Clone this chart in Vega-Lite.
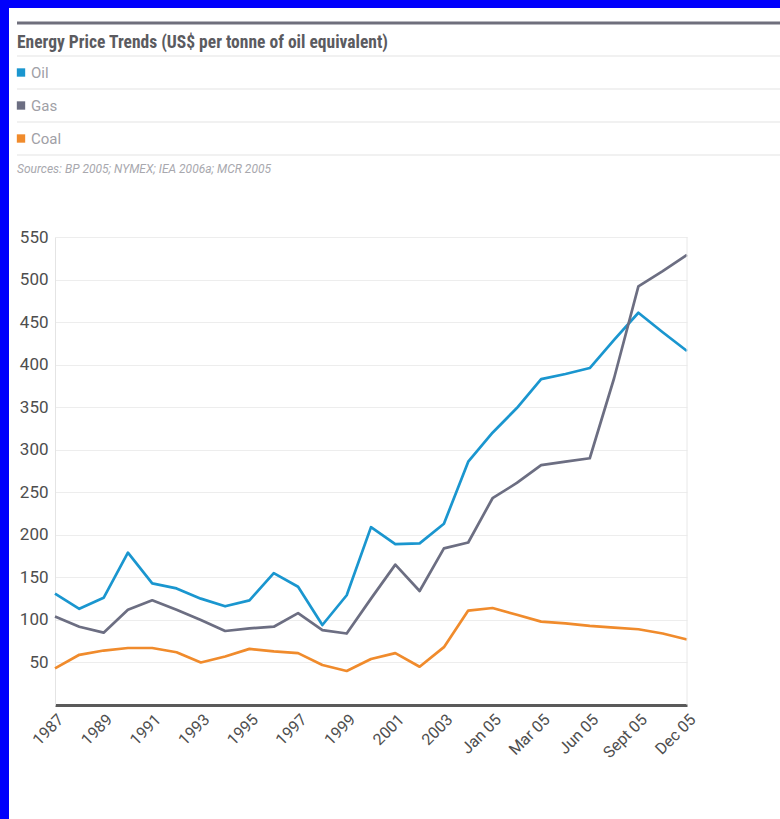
{
  "$schema": "https://vega.github.io/schema/vega-lite/v6.json",
  "width": 771,
  "height": 811,
  "autosize": {"type": "none"},
  "padding": {"left": 9, "top": 8, "right": 0, "bottom": 0},
  "background": "#0000fc",
  "config": {"view": {"fill": "white", "stroke": null}, "font": "Roboto"},
  "datasets": {
    "header": [
      {"row": "title", "text": "Energy Price Trends (US$ per tonne of oil equivalent)", "kind": "title"},
      {"row": "Oil", "text": "Oil", "kind": "legend"},
      {"row": "Gas", "text": "Gas", "kind": "legend"},
      {"row": "Coal", "text": "Coal", "kind": "legend"},
      {"row": "sources", "text": "Sources: BP 2005; NYMEX; IEA 2006a; MCR 2005", "kind": "sources"}
    ],
    "prices": [
      {"period": "1987", "series": "Oil", "value": 131}, {"period": "1987", "series": "Gas", "value": 104}, {"period": "1987", "series": "Coal", "value": 43},
      {"period": "1988", "series": "Oil", "value": 113}, {"period": "1988", "series": "Gas", "value": 92}, {"period": "1988", "series": "Coal", "value": 59},
      {"period": "1989", "series": "Oil", "value": 126}, {"period": "1989", "series": "Gas", "value": 85}, {"period": "1989", "series": "Coal", "value": 64},
      {"period": "1990", "series": "Oil", "value": 179}, {"period": "1990", "series": "Gas", "value": 112}, {"period": "1990", "series": "Coal", "value": 67},
      {"period": "1991", "series": "Oil", "value": 143}, {"period": "1991", "series": "Gas", "value": 123}, {"period": "1991", "series": "Coal", "value": 67},
      {"period": "1992", "series": "Oil", "value": 137}, {"period": "1992", "series": "Gas", "value": 112}, {"period": "1992", "series": "Coal", "value": 62},
      {"period": "1993", "series": "Oil", "value": 125}, {"period": "1993", "series": "Gas", "value": 100}, {"period": "1993", "series": "Coal", "value": 50},
      {"period": "1994", "series": "Oil", "value": 116}, {"period": "1994", "series": "Gas", "value": 87}, {"period": "1994", "series": "Coal", "value": 57},
      {"period": "1995", "series": "Oil", "value": 123}, {"period": "1995", "series": "Gas", "value": 90}, {"period": "1995", "series": "Coal", "value": 66},
      {"period": "1996", "series": "Oil", "value": 155}, {"period": "1996", "series": "Gas", "value": 92}, {"period": "1996", "series": "Coal", "value": 63},
      {"period": "1997", "series": "Oil", "value": 139}, {"period": "1997", "series": "Gas", "value": 108}, {"period": "1997", "series": "Coal", "value": 61},
      {"period": "1998", "series": "Oil", "value": 94}, {"period": "1998", "series": "Gas", "value": 88}, {"period": "1998", "series": "Coal", "value": 47},
      {"period": "1999", "series": "Oil", "value": 129}, {"period": "1999", "series": "Gas", "value": 84}, {"period": "1999", "series": "Coal", "value": 40},
      {"period": "2000", "series": "Oil", "value": 209}, {"period": "2000", "series": "Gas", "value": 125}, {"period": "2000", "series": "Coal", "value": 54},
      {"period": "2001", "series": "Oil", "value": 189}, {"period": "2001", "series": "Gas", "value": 165}, {"period": "2001", "series": "Coal", "value": 61},
      {"period": "2002", "series": "Oil", "value": 190}, {"period": "2002", "series": "Gas", "value": 134}, {"period": "2002", "series": "Coal", "value": 45},
      {"period": "2003", "series": "Oil", "value": 213}, {"period": "2003", "series": "Gas", "value": 184}, {"period": "2003", "series": "Coal", "value": 68},
      {"period": "2004", "series": "Oil", "value": 286}, {"period": "2004", "series": "Gas", "value": 191}, {"period": "2004", "series": "Coal", "value": 111},
      {"period": "Jan 05", "series": "Oil", "value": 320}, {"period": "Jan 05", "series": "Gas", "value": 243}, {"period": "Jan 05", "series": "Coal", "value": 114},
      {"period": "Feb 05", "series": "Oil", "value": 349}, {"period": "Feb 05", "series": "Gas", "value": 261}, {"period": "Feb 05", "series": "Coal", "value": 106},
      {"period": "Mar 05", "series": "Oil", "value": 383}, {"period": "Mar 05", "series": "Gas", "value": 282}, {"period": "Mar 05", "series": "Coal", "value": 98},
      {"period": "Apr 05", "series": "Oil", "value": 389}, {"period": "Apr 05", "series": "Gas", "value": 286}, {"period": "Apr 05", "series": "Coal", "value": 96},
      {"period": "Jun 05", "series": "Oil", "value": 396}, {"period": "Jun 05", "series": "Gas", "value": 290}, {"period": "Jun 05", "series": "Coal", "value": 93},
      {"period": "Jul 05", "series": "Oil", "value": 429}, {"period": "Jul 05", "series": "Gas", "value": 384}, {"period": "Jul 05", "series": "Coal", "value": 91},
      {"period": "Sept 05", "series": "Oil", "value": 461}, {"period": "Sept 05", "series": "Gas", "value": 492}, {"period": "Sept 05", "series": "Coal", "value": 89},
      {"period": "Oct 05", "series": "Oil", "value": 438}, {"period": "Oct 05", "series": "Gas", "value": 510}, {"period": "Oct 05", "series": "Coal", "value": 84},
      {"period": "Dec 05", "series": "Oil", "value": 416}, {"period": "Dec 05", "series": "Gas", "value": 529}, {"period": "Dec 05", "series": "Coal", "value": 77}
    ]
  },
  "layer": [
    {
      "data": {"name": "prices"},
      "layer": [
        {
          "mark": {"type": "line", "strokeWidth": 2.7, "strokeJoin": "round"},
          "encoding": {
            "x": {
              "field": "period", "type": "ordinal",
              "scale": {"type": "point", "domain": ["1987","1988","1989","1990","1991","1992","1993","1994","1995","1996","1997","1998","1999","2000","2001","2002","2003","2004","Jan 05","Feb 05","Mar 05","Apr 05","Jun 05","Jul 05","Sept 05","Oct 05","Dec 05"], "range": [46, 678], "padding": 0},
              "axis": {
                "orient": "bottom", "offset": -114, "title": null,
                "values": ["1987","1989","1991","1993","1995","1997","1999","2001","2003","Jan 05","Mar 05","Jun 05","Sept 05","Dec 05"],
                "labelAngle": -45, "labelAlign": "right", "labelBaseline": "top", "labelFontSize": 16, "labelColor": "#4e4e4e", "labelPadding": 6,
                "ticks": false, "grid": false, "domainColor": "#5a5a5a", "domainWidth": 3
              }
            },
            "y": {
              "field": "value", "type": "quantitative",
              "scale": {"domain": [0, 550], "range": [697, 229]},
              "axis": {
                "orient": "left", "offset": -46, "title": null,
                "values": [50, 100, 150, 200, 250, 300, 350, 400, 450, 500, 550],
                "labelFontSize": 17, "labelColor": "#4e4e4e", "labelPadding": 7,
                "ticks": false, "grid": true, "gridColor": "#ededed", "gridWidth": 1.2,
                "domainColor": "#e4e4e4", "domainWidth": 1
              }
            },
            "color": {"field": "series", "type": "nominal", "scale": {"domain": ["Oil", "Gas", "Coal"], "range": ["#1a96cf", "#6c6e82", "#f08b2c"]}, "legend": null}
          }
        },
        {
          "data": {"values": [{"period": "Dec 05", "lo": 0, "hi": 550}]},
          "mark": {"type": "rule", "color": "#e8e8e8", "strokeWidth": 1},
          "encoding": {
            "x": {"field": "period", "type": "ordinal", "scale": {"type": "point", "domain": ["1987","1988","1989","1990","1991","1992","1993","1994","1995","1996","1997","1998","1999","2000","2001","2002","2003","2004","Jan 05","Feb 05","Mar 05","Apr 05","Jun 05","Jul 05","Sept 05","Oct 05","Dec 05"], "range": [46, 678], "padding": 0}},
            "y": {"field": "lo", "type": "quantitative", "scale": {"domain": [0, 550], "range": [697, 229]}},
            "y2": {"field": "hi"}
          }
        }
      ]
    },
    {
      "data": {"name": "header"},
      "layer": [
        {
          "transform": [{"filter": "datum.kind === 'title'"}],
          "mark": {"type": "rule", "color": "#6f6f7c", "strokeWidth": 3},
          "encoding": {
            "y": {"field": "row", "type": "nominal", "bandPosition": 0, "scale": {"type": "band", "domain": ["title", "Oil", "Gas", "Coal", "sources"], "range": [15, 180], "paddingInner": 0, "paddingOuter": 0}, "axis": null},
            "x": {"datum": 0, "type": "quantitative", "scale": {"domain": [0, 1], "range": [8, 771]}, "axis": null},
            "x2": {"datum": 1}
          }
        },
        {
          "transform": [{"filter": "datum.kind !== 'title'"}],
          "mark": {"type": "rule", "color": "#ececec", "strokeWidth": 1.5},
          "encoding": {
            "y": {"field": "row", "type": "nominal", "bandPosition": 0, "scale": {"type": "band", "domain": ["title", "Oil", "Gas", "Coal", "sources"], "range": [15, 180], "paddingInner": 0, "paddingOuter": 0}, "axis": null},
            "x": {"datum": 0, "type": "quantitative", "scale": {"domain": [0, 1], "range": [8, 771]}, "axis": null},
            "x2": {"datum": 1}
          }
        },
        {
          "transform": [{"filter": "datum.kind === 'title'"}],
          "mark": {"type": "text", "align": "left", "baseline": "middle", "fontSize": 17.5, "fontWeight": "bold", "color": "#5b5b60", "dy": 3, "font": "Liberation Sans Narrow, Roboto Condensed, Roboto"},
          "encoding": {
            "y": {"field": "row", "type": "nominal", "bandPosition": 0.5, "scale": {"type": "band", "domain": ["title", "Oil", "Gas", "Coal", "sources"], "range": [15, 180], "paddingInner": 0, "paddingOuter": 0}, "axis": null},
            "x": {"datum": 0, "type": "quantitative", "scale": {"domain": [0, 1], "range": [8, 771]}, "axis": null},
            "text": {"field": "text"}
          }
        },
        {
          "transform": [{"filter": "datum.kind === 'legend'"}],
          "mark": {"type": "point", "shape": "square", "filled": true, "size": 70, "opacity": 1},
          "encoding": {
            "y": {"field": "row", "type": "nominal", "bandPosition": 0.5, "scale": {"type": "band", "domain": ["title", "Oil", "Gas", "Coal", "sources"], "range": [15, 180], "paddingInner": 0, "paddingOuter": 0}, "axis": null},
            "x": {"datum": 0, "type": "quantitative", "scale": {"domain": [0, 1], "range": [8, 771]}, "axis": null},
            "xOffset": {"value": 4},
            "color": {"field": "row", "type": "nominal", "scale": {"domain": ["Oil", "Gas", "Coal"], "range": ["#1a96cf", "#6c6e82", "#f08b2c"]}, "legend": null}
          }
        },
        {
          "transform": [{"filter": "datum.kind === 'legend'"}],
          "mark": {"type": "text", "align": "left", "baseline": "middle", "fontSize": 15, "color": "#a0a0a6", "dx": 14},
          "encoding": {
            "y": {"field": "row", "type": "nominal", "bandPosition": 0.5, "scale": {"type": "band", "domain": ["title", "Oil", "Gas", "Coal", "sources"], "range": [15, 180], "paddingInner": 0, "paddingOuter": 0}, "axis": null},
            "x": {"datum": 0, "type": "quantitative", "scale": {"domain": [0, 1], "range": [8, 771]}, "axis": null},
            "text": {"field": "text"}
          }
        },
        {
          "transform": [{"filter": "datum.kind === 'sources'"}],
          "mark": {"type": "text", "align": "left", "baseline": "middle", "fontSize": 12, "fontStyle": "italic", "color": "#a8a8ae", "dy": -3},
          "encoding": {
            "y": {"field": "row", "type": "nominal", "bandPosition": 0.5, "scale": {"type": "band", "domain": ["title", "Oil", "Gas", "Coal", "sources"], "range": [15, 180], "paddingInner": 0, "paddingOuter": 0}, "axis": null},
            "x": {"datum": 0, "type": "quantitative", "scale": {"domain": [0, 1], "range": [8, 771]}, "axis": null},
            "text": {"field": "text"}
          }
        }
      ]
    }
  ],
  "resolve": {"scale": {"x": "independent", "y": "independent"}, "axis": {"x": "independent", "y": "independent"}}
}
